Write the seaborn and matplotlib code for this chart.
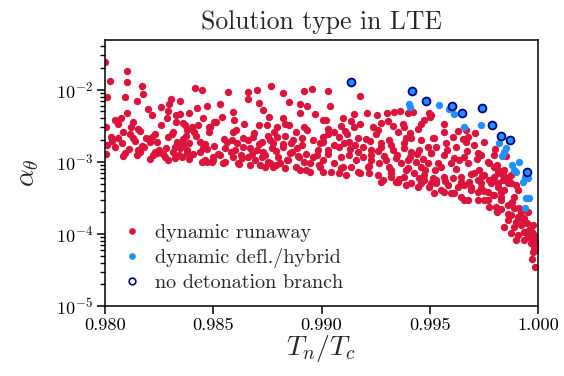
import matplotlib
matplotlib.use("Agg")
import matplotlib.pyplot as plt
from matplotlib.lines import Line2D
from matplotlib.ticker import FixedLocator, NullFormatter, LogLocator
import seaborn as sns

# ---- dynamic runaway (red) ----
run_x = [
0.9800,0.98023,0.98102,0.98102,0.98171,0.98176,0.98093,0.98009,0.98148,0.98306,0.98296,0.98347,
0.98292,0.98199,0.98218,0.98102,0.98074,0.98046,0.98347,0.98389,0.98417,0.98449,0.98426,0.98454,
0.98482,0.98505,0.98005,0.9812,0.98153,0.98259,0.98287,0.98329,0.98361,0.9837,0.98403,0.98412,
0.98315,0.98292,0.98375,0.98083,0.9806,0.98032,0.98009,0.98046,0.9813,0.98116,0.98139,0.9819,
0.98218,0.98208,0.98171,0.98153,0.98093,0.98083,0.98005,0.98222,0.98232,0.9825,0.98282,0.98278,
0.98315,0.98324,0.98333,0.98347,0.98361,0.9838,0.98357,0.98324,0.98389,0.9844,0.98454,0.98472,
0.98407,0.98449,0.98472,0.98495,0.985,0.98162,0.98241,0.9838,0.98463,
0.98769,0.9857,0.98662,0.98704,0.9882,0.98917,0.98958,0.98532,0.98713,0.98903,0.98935,0.98593,
0.98903,0.98597,0.98514,0.98759,0.98824,0.98713,0.9875,0.98796,0.98852,0.98935,0.99009,0.98607,
0.98486,0.98755,0.98796,0.98833,0.98824,0.9887,0.98912,0.99005,0.98995,0.98565,0.98588,0.98639,
0.98685,0.98727,0.98773,0.98556,0.98505,0.98602,0.98639,0.98671,0.98704,0.98732,0.98532,0.985,
0.98556,0.98593,0.98634,0.98662,0.98695,0.98727,0.98755,0.98801,0.9881,0.98843,0.98866,0.98889,
0.98894,0.98917,0.98949,0.98963,0.98982,0.98995,0.99009,0.9888,0.98833,0.98778,0.98718,0.98671,
0.98616,0.98903,0.98949,0.98741,0.98856,0.99009,0.98778,0.98546,0.98764,
0.99032,0.9918,0.99037,0.99023,0.99148,0.99208,0.99255,0.99301,0.99333,0.99361,0.99398,0.99421,
0.99495,0.995,0.99134,0.99097,0.99273,0.99306,0.99375,0.9938,0.99472,0.99445,0.99148,0.99088,
0.99236,0.9925,0.99352,0.99389,0.99412,0.99458,0.99514,0.99056,0.99028,0.99079,0.9912,0.99167,
0.99204,0.99222,0.99273,0.9931,0.99009,0.99102,0.99125,0.99157,0.99227,0.99273,0.99329,0.9938,
0.99412,0.99449,0.99491,0.99505,0.99032,0.99079,0.99125,0.99167,0.9919,0.99227,0.99264,0.99296,
0.99343,0.99366,0.99398,0.99435,0.99458,0.99491,0.99056,0.99097,0.99134,0.99042,0.9918,0.99259,
0.9932,0.9938,0.99426,0.99472,0.99514,0.99283,0.99343,0.99412,0.99519,0.99445,0.99389,0.99273,
0.99218,0.99111,0.99458,0.99505,0.99352,0.9932,0.99079,0.99167,0.99213,0.9932,0.99398,
0.99505,0.99565,0.99565,0.99519,0.99607,0.99653,0.99676,0.99667,0.99704,0.99574,0.99505,0.99565,
0.99611,0.99634,0.99657,0.99722,0.99736,0.99796,0.99537,0.9960,0.99676,0.99727,0.99796,0.99815,
0.99838,0.99875,0.99523,0.99565,0.99607,0.99644,0.9968,0.99722,0.99773,0.99815,0.99875,0.99528,
0.99583,0.9963,0.9969,0.99736,0.99667,
0.99796,0.9975,0.99704,0.99783,0.99815,0.99843,0.99736,0.9969,0.99644,0.99597,0.99551,0.99495,
0.99472,0.99676,0.99722,0.99769,0.99796,0.99829,0.99861,0.99829,0.99889,0.99875,0.99908,0.99861,
0.99843,0.99889,0.99921,0.99935,0.99908,0.99954,0.99968,0.99935,0.99982,0.99977,0.99991,0.99982,
0.99977,0.99986,0.99898,0.99875,0.99921,0.99829,0.99769,0.99722,0.99889,0.99898,0.99861,0.99866,
0.99815,0.99773,0.99843,0.99908,0.99954,0.99935,0.99806,0.99773,0.9975,0.99565,0.99611,0.99657,
0.99528,0.99644,0.9969,
]
run_a = [
2.4e-2,1.33e-2,1.84e-2,1.29e-2,1.14e-2,8.8e-3,8.0e-3,8.0e-3,7.0e-3,7.5e-3,6.4e-3,7.0e-3,
5.1e-3,5.4e-3,4.4e-3,4.8e-3,4.1e-3,3.8e-3,4.6e-3,4.8e-3,1.07e-2,1.0e-2,5.6e-3,4.1e-3,
3.0e-3,3.6e-3,3.0e-3,3.0e-3,2.9e-3,3.2e-3,4.1e-3,3.6e-3,3.5e-3,3.2e-3,3.0e-3,2.6e-3,
2.6e-3,2.2e-3,2.3e-3,2.6e-3,2.15e-3,1.96e-3,1.72e-3,1.62e-3,2.15e-3,2.4e-3,1.96e-3,2.15e-3,
2.2e-3,1.9e-3,1.67e-3,1.47e-3,1.33e-3,1.21e-3,1.29e-3,1.25e-3,1.38e-3,1.47e-3,1.56e-3,1.17e-3,
1.38e-3,1.62e-3,1.9e-3,1.56e-3,1.72e-3,1.47e-3,1.17e-3,1.14e-3,1.84e-3,1.9e-3,1.56e-3,1.51e-3,
1.29e-3,1.0e-3,1.0e-3,1.0e-3,1.17e-3,1.38e-3,1.33e-3,1.33e-3,1.07e-3,
1.14e-2,9.4e-3,9.4e-3,1.0e-2,9.1e-3,9.7e-3,1.03e-2,6.4e-3,6.6e-3,6.4e-3,6.0e-3,4.9e-3,
4.8e-3,3.8e-3,3.6e-3,4.2e-3,4.1e-3,3.2e-3,3.2e-3,3.0e-3,3.2e-3,2.8e-3,3.8e-3,2.8e-3,
3.0e-3,2.3e-3,2.2e-3,2.3e-3,1.78e-3,2.0e-3,2.15e-3,2.2e-3,1.84e-3,1.9e-3,2.0e-3,2.15e-3,
2.2e-3,1.9e-3,1.56e-3,1.56e-3,1.67e-3,1.47e-3,1.62e-3,1.56e-3,1.47e-3,1.38e-3,1.25e-3,1.07e-3,
1.0e-3,1.17e-3,1.14e-3,1.17e-3,1.07e-3,1.17e-3,1.0e-3,1.17e-3,9.7e-4,1.07e-3,1.38e-3,1.56e-3,
1.17e-3,1.0e-3,9.7e-4,1.17e-3,1.47e-3,8.5e-4,1.07e-3,8.5e-4,8.3e-4,8.5e-4,9.1e-4,9.1e-4,
9.7e-4,7.7e-4,7.3e-4,8.5e-4,1.33e-3,7.3e-4,1.84e-3,9.7e-4,9.7e-4,
9.7e-3,8.3e-3,6.0e-3,3.8e-3,4.6e-3,4.8e-3,4.4e-3,4.8e-3,4.9e-3,5.1e-3,4.8e-3,4.9e-3,
4.8e-3,4.2e-3,3.7e-3,4.1e-3,3.5e-3,3.7e-3,3.4e-3,3.0e-3,3.8e-3,2.9e-3,3.0e-3,3.1e-3,
3.0e-3,2.4e-3,2.6e-3,2.15e-3,2.15e-3,2.0e-3,2.15e-3,2.6e-3,2.4e-3,2.2e-3,2.45e-3,2.15e-3,
2.1e-3,1.96e-3,1.84e-3,2.0e-3,1.9e-3,1.84e-3,1.9e-3,1.72e-3,1.47e-3,1.62e-3,1.47e-3,1.56e-3,
1.38e-3,1.47e-3,1.62e-3,1.33e-3,1.47e-3,1.62e-3,1.25e-3,1.38e-3,1.17e-3,1.07e-3,9.7e-4,1.07e-3,
1.14e-3,9.7e-4,1.07e-3,1.0e-3,8.5e-4,9.7e-4,9.7e-4,8.5e-4,8.5e-4,7.3e-4,7.0e-4,6.6e-4,
7.0e-4,6.2e-4,7.0e-4,6.6e-4,6.0e-4,5.6e-4,5.3e-4,5.1e-4,3.7e-4,4.5e-4,4.8e-4,5.3e-4,
7.0e-4,6.6e-4,5.1e-4,5.1e-4,5.3e-4,6.2e-4,7.0e-4,7.3e-4,8.5e-4,7.7e-4,8.3e-4,
4.5e-3,3.3e-3,2.6e-3,2.15e-3,2.2e-3,2.1e-3,2.2e-3,1.9e-3,1.72e-3,1.84e-3,1.33e-3,1.25e-3,
1.14e-3,1.07e-3,1.17e-3,1.33e-3,1.25e-3,1.25e-3,9.7e-4,9.7e-4,9.7e-4,7.7e-4,8.5e-4,7.0e-4,
6.6e-4,6.6e-4,7.7e-4,6.2e-4,6.0e-4,6.2e-4,5.3e-4,5.6e-4,5.6e-4,5.1e-4,5.1e-4,5.1e-4,
4.8e-4,4.5e-4,4.4e-4,4.4e-4,2.8e-3,
6.2e-4,6.6e-4,7.0e-4,5.1e-4,4.5e-4,4.1e-4,5.1e-4,4.1e-4,3.3e-4,3.7e-4,4.1e-4,4.5e-4,
5.6e-4,3.0e-4,3.0e-4,3.0e-4,3.5e-4,3.0e-4,2.5e-4,2.2e-4,2.3e-4,1.85e-4,1.73e-4,1.56e-4,
1.25e-4,1.25e-4,1.33e-4,1.07e-4,9.8e-5,9.1e-5,7.5e-5,8.3e-5,6.6e-5,5.6e-5,7.5e-5,9.8e-5,
1.33e-4,3.5e-5,8.3e-5,1.04e-4,2.0e-4,3.8e-4,3.8e-4,3.8e-4,3.3e-4,4.8e-4,5.1e-4,6.2e-4,
7.7e-4,9.7e-4,7.7e-4,4.1e-4,2.0e-4,1.65e-4,2.4e-4,2.4e-4,3.0e-4,3.8e-4,3.7e-4,3.0e-4,
5.6e-4,5.3e-4,4.5e-4,
]
# more runaway points from the dense parts of the cloud
run2_x = [
0.9808,0.9811,0.9815,0.9818,0.9821,0.9824,0.9827,0.9829,0.9831,0.9834,0.9836,0.9839,0.9842,
0.9844,0.9846,0.9848,0.9803,0.9806,0.9813,0.9816,0.9823,0.9826,0.9833,0.9838,0.9843,0.9847,
0.9852,0.9855,0.9858,0.9861,0.9863,0.9866,0.9868,0.9871,0.9874,0.9876,0.9879,0.9882,0.9884,
0.9886,0.9889,0.9891,0.9893,0.9896,0.9898,0.9854,0.9859,0.9864,0.9869,0.9873,0.9878,0.9883,
0.9888,0.9892,0.9897,0.9866,0.9885,0.9862,0.9879,0.9893,0.9899,
0.9903,0.9906,0.9909,0.9913,0.9916,0.9919,0.9923,0.9926,0.9929,0.9932,0.9935,0.9938,0.9941,
0.9944,0.9947,0.9903,0.9911,0.9918,0.9926,0.9933,0.9941,0.9946,0.9909,0.9922,0.9931,0.9939,
0.9948,0.9936,0.9945,
0.9953,0.9958,0.9962,0.9967,0.9972,0.9977,0.9981,0.9955,0.9962,0.9969,0.9974,0.9979,0.9984,
0.9957,0.9966,0.9975,0.9983,0.9988,0.9991,0.9993,0.9996,0.9998,0.9999,0.9986,0.9990,0.9995,
0.9997,0.9981,0.9979,0.9997,0.9963,0.9971,0.9975,0.9980,0.9985,
]
run2_a = [
1.8e-3,1.5e-3,1.25e-3,1.6e-3,1.1e-3,1.9e-3,1.3e-3,1.05e-3,2.4e-3,1.25e-3,2.05e-3,1.1e-3,2.3e-3,
1.35e-3,1.75e-3,2.6e-3,2.2e-3,3.3e-3,3.6e-3,2.7e-3,2.45e-3,5.8e-3,4.5e-3,2.8e-3,3.2e-3,6.0e-3,
1.3e-3,2.1e-3,1.35e-3,1.8e-3,1.25e-3,2.0e-3,1.3e-3,1.75e-3,1.25e-3,2.0e-3,1.4e-3,1.6e-3,1.05e-3,
1.85e-3,1.2e-3,1.7e-3,1.3e-3,2.0e-3,1.25e-3,4.2e-3,2.6e-3,3.3e-3,2.5e-3,5.2e-3,2.6e-3,3.4e-3,
2.6e-3,3.0e-3,4.6e-3,7.5e-3,6.8e-3,9.2e-4,8.9e-4,7.6e-4,9.0e-4,
1.3e-3,1.7e-3,1.15e-3,1.5e-3,1.05e-3,1.6e-3,1.25e-3,1.4e-3,1.2e-3,1.7e-3,1.25e-3,1.85e-3,1.15e-3,
1.3e-3,1.1e-3,2.9e-3,2.7e-3,3.3e-3,2.8e-3,3.1e-3,2.5e-3,3.3e-3,8.2e-4,8.8e-4,8.6e-4,7.8e-4,
7.6e-4,5.8e-4,6.0e-4,
1.6e-3,1.45e-3,1.6e-3,1.4e-3,1.1e-3,1.0e-3,9.0e-4,8.5e-4,8.0e-4,6.8e-4,6.3e-4,5.8e-4,5.6e-4,
5.5e-4,4.7e-4,4.0e-4,3.3e-4,2.8e-4,2.3e-4,1.55e-4,1.15e-4,8.5e-5,6.0e-5,1.9e-4,1.45e-4,1.4e-4,
1.05e-4,2.0e-4,3.5e-4,4.5e-5,2.7e-3,2.5e-3,1.9e-3,1.5e-3,1.2e-3,
]

# ---- dynamic deflagration / hybrid (light blue) ----
hyb_x = [0.99403,0.99407,0.99542,0.99588,0.99611,0.99658,0.99736,0.9982,0.99852,0.99843,0.99834,
         0.9988,0.99912,0.99889,0.99898,0.9994,0.99931,0.99954,0.99944,0.99958,0.9994]
hyb_a = [6.4e-3,5.8e-3,6.2e-3,5.4e-3,4.6e-3,3.0e-3,3.2e-3,1.84e-3,1.56e-3,1.38e-3,1.21e-3,
         9.1e-4,1.0e-3,7.7e-4,7.3e-4,6.2e-4,5.3e-4,6.0e-4,3.1e-4,3.1e-4,2.3e-4]

# ---- no detonation branch (outlined) ----
nod_x = [0.99134,0.99417,0.99481,0.99602,0.99648,0.99741,0.99787,0.99829,0.99870,0.99949]
nod_a = [1.29e-2,9.7e-3,7.0e-3,6.0e-3,4.8e-3,5.6e-3,3.27e-3,2.3e-3,2.02e-3,7.3e-4]

labels = ["dynamic runaway", "dynamic defl./hybrid", "no detonation branch"]
c_run, c_hyb, c_nod = "#DC143C", "#1E90FF", "#000080"

sns.set_style("ticks")
plt.rcParams["font.family"] = ["cmr10", "DejaVu Serif"]
plt.rcParams["mathtext.fontset"] = "cm"
plt.rcParams["axes.formatter.use_mathtext"] = True

fig = plt.figure(figsize=(5.64, 3.76), dpi=100)
ax = fig.add_axes([105/564, 1-306/376, 433/564, 266/376])

sns.scatterplot(x=run_x + run2_x, y=run_a + run2_a, ax=ax, color=c_run, s=28,
                linewidth=0, zorder=2)
sns.scatterplot(x=hyb_x, y=hyb_a, ax=ax, color=c_hyb, s=28, linewidth=0, zorder=3)
sns.scatterplot(x=nod_x, y=nod_a, ax=ax, color=c_hyb, s=32, edgecolor=c_nod,
                linewidth=1.3, zorder=4)

ax.set_yscale("log")
ax.set_xlim(0.980, 1.000)
ax.set_ylim(1e-5, 4.9e-2)
ax.yaxis.set_major_locator(LogLocator(base=10, numticks=10))
minor_locs = [k * 10.0 ** e for e in range(-6, 0) for k in range(2, 10)]
ax.yaxis.set_minor_locator(FixedLocator(minor_locs))
ax.yaxis.set_minor_formatter(NullFormatter())
ax.set_xticks([0.980, 0.985, 0.990, 0.995, 1.000])
ax.set_xticklabels(["0.980", "0.985", "0.990", "0.995", "1.000"])
ax.tick_params(axis="both", which="major", direction="out", length=5.5, width=1.1,
               labelsize=13.2, colors="black", left=True, bottom=True, pad=3)
ax.tick_params(axis="y", which="minor", direction="out", length=3.5, width=1.0,
               left=True, color="black")
ax.tick_params(top=False, right=False, which="both")
for sp in ax.spines.values():
    sp.set_visible(True)
    sp.set_color("black")
    sp.set_linewidth(1.1)

ax.set_xlabel(r"$T_n/T_c$", fontsize=20, labelpad=0)
ax.set_ylabel(r"$\alpha_\theta$", fontsize=20, labelpad=11)
ax.set_title("Solution type in LTE", fontsize=18.5, pad=8)

handles = [
    Line2D([], [], marker="o", ls="", color=c_run, markersize=4.8, markeredgewidth=0),
    Line2D([], [], marker="o", ls="", color=c_hyb, markersize=4.8, markeredgewidth=0),
    Line2D([], [], marker="o", ls="", markerfacecolor="white", markeredgecolor=c_nod,
           markersize=4.8, markeredgewidth=1.2),
]
ax.legend(handles, labels, loc="lower left", frameon=False, fontsize=14.5,
          handletextpad=0.5, labelspacing=0.3, borderaxespad=0.5, borderpad=0.2,
          handlelength=1.3)

fig.savefig("out.png", dpi=100)
